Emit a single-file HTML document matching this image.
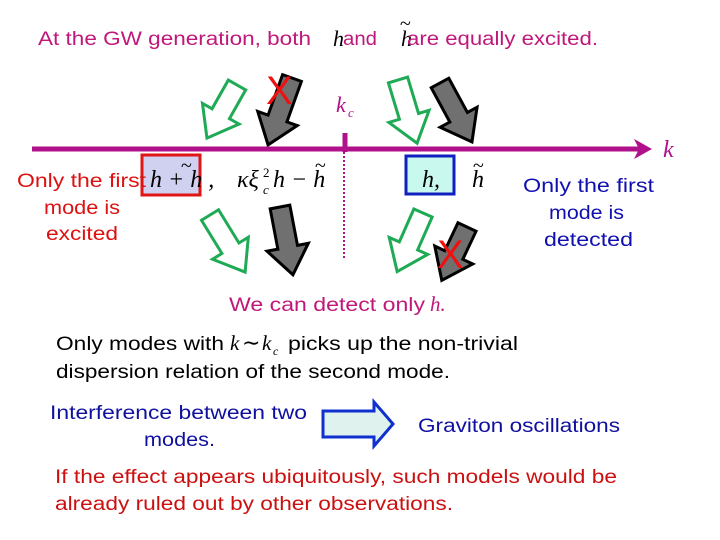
<!DOCTYPE html>
<html><head><meta charset="utf-8"><style>
body{margin:0;background:#fff}
svg{display:block}
.t{font-family:"Liberation Sans","Noto Sans CJK JP",sans-serif;font-size:19px}
.m{font-family:"Liberation Serif",serif;font-style:italic}
</style></head><body>
<svg width="720" height="540" viewBox="0 0 720 540" xmlns="http://www.w3.org/2000/svg">
<text x="38" y="45" class="t" fill="#c0187a" textLength="273" lengthAdjust="spacingAndGlyphs">At the GW generation, both</text>
<text x="333" y="46" class="m" font-size="22" fill="#000">h</text>
<text x="343" y="45" class="t" fill="#c0187a" textLength="34" lengthAdjust="spacingAndGlyphs">and</text>
<text x="401" y="46" class="m" font-size="22" fill="#000">h</text>
<text x="400" y="30" font-family="Liberation Serif" font-size="20" fill="#000">~</text>
<text x="407" y="45" class="t" fill="#c0187a" textLength="191" lengthAdjust="spacingAndGlyphs">are equally excited.</text>

<g stroke-width="3" stroke-linejoin="miter">
<polygon transform="translate(237,85) rotate(119.5)" points="0,-10 33,-10 33,-21 61,0 33,21 33,10 0,10" fill="#fff" stroke="#1faa55"/>
<polygon transform="translate(292,78) rotate(109.7)" points="0,-10 43,-10 43,-21 71,0 43,21 43,10 0,10" fill="#707070" stroke="#000"/>
<polygon transform="translate(398,80) rotate(73.2)" points="0,-10 38,-10 38,-21 66,0 38,21 38,10 0,10" fill="#fff" stroke="#1faa55"/>
<polygon transform="translate(440,83) rotate(61.5)" points="0,-10 39,-10 39,-21 67,0 39,21 39,10 0,10" fill="#707070" stroke="#000"/>
<polygon transform="translate(210,215) rotate(58.4)" points="0,-10 39,-10 39,-21 67,0 39,21 39,10 0,10" fill="#fff" stroke="#1faa55"/>
<polygon transform="translate(280,207) rotate(79.2)" points="0,-10 41,-10 41,-21 69,0 41,21 41,10 0,10" fill="#707070" stroke="#000"/>
<polygon transform="translate(423,213) rotate(113.8)" points="0,-10 36,-10 36,-21 64,0 36,21 36,10 0,10" fill="#fff" stroke="#1faa55"/>
<polygon transform="translate(467,227) rotate(115.3)" points="0,-10 31,-10 31,-21 59,0 31,21 31,10 0,10" fill="#707070" stroke="#000"/>
</g>
<text x="266" y="104" font-family="Liberation Sans" font-size="40" fill="#ee1111">X</text>
<text x="437" y="268" font-family="Liberation Sans" font-size="40" fill="#ee1111">X</text>

<line x1="32" y1="149" x2="640" y2="149" stroke="#b0108a" stroke-width="5"/>
<polygon points="634,139 652,149 634,159 639,149" fill="#b0108a"/>
<line x1="345" y1="133" x2="345" y2="152" stroke="#b0108a" stroke-width="5"/>
<line x1="344" y1="152" x2="344" y2="258" stroke="#b0108a" stroke-width="2" stroke-dasharray="2,2"/>
<text x="663" y="157" class="m" font-size="24" fill="#b0108a">k</text>
<text x="336" y="112" class="m" font-size="22" fill="#b0108a">k</text>
<text x="348" y="117" class="m" font-size="13" fill="#b0108a">c</text>

<rect x="142" y="155" width="58" height="40" fill="#d0d0f0" stroke="#e01515" stroke-width="3"/>
<text x="150" y="187" class="m" font-size="24" fill="#000">h + h ,</text>
<text x="181" y="172" font-family="Liberation Serif" font-size="20">~</text>
<text x="237" y="187" class="m" font-size="24" fill="#000">κξ</text>
<text x="263" y="177" font-family="Liberation Serif" font-size="13">2</text>
<text x="263" y="194" class="m" font-size="13">c</text>
<text x="273" y="187" class="m" font-size="24" fill="#000">h − h</text>
<text x="315" y="172" font-family="Liberation Serif" font-size="20">~</text>
<rect x="406" y="156" width="48" height="38" fill="#c8f8ee" stroke="#1020c0" stroke-width="3"/>
<text x="422" y="187" class="m" font-size="24">h,</text>
<text x="472" y="187" class="m" font-size="24">h</text>
<text x="473" y="172" font-family="Liberation Serif" font-size="20">~</text>

<text x="17" y="187" class="t" fill="#dd1111" textLength="129" lengthAdjust="spacingAndGlyphs">Only the first</text>
<text x="44" y="214" class="t" fill="#dd1111" textLength="76" lengthAdjust="spacingAndGlyphs">mode is</text>
<text x="46" y="240" class="t" fill="#dd1111" textLength="72" lengthAdjust="spacingAndGlyphs">excited</text>
<text x="523" y="192" class="t" fill="#1010b0" textLength="131" lengthAdjust="spacingAndGlyphs">Only the first</text>
<text x="549" y="219" class="t" fill="#1010b0" textLength="75" lengthAdjust="spacingAndGlyphs">mode is</text>
<text x="544" y="246" class="t" fill="#1010b0" textLength="89" lengthAdjust="spacingAndGlyphs">detected</text>

<text x="229" y="311" class="t" fill="#c0187a" textLength="196" lengthAdjust="spacingAndGlyphs">We can detect only</text>
<text x="430" y="311" class="m" font-size="21" fill="#c0187a">h.</text>
<text x="56" y="350" class="t" fill="#000" textLength="168" lengthAdjust="spacingAndGlyphs">Only modes with</text>
<text x="230" y="350" class="m" font-size="21">k</text>
<text x="242" y="350" font-family="Liberation Serif" font-size="22">∼</text>
<text x="262" y="350" class="m" font-size="21">k</text>
<text x="273" y="355" class="m" font-size="12">c</text>
<text x="288" y="350" class="t" fill="#000" textLength="230" lengthAdjust="spacingAndGlyphs">picks up the non-trivial</text>
<text x="56" y="378" class="t" fill="#000" textLength="394" lengthAdjust="spacingAndGlyphs">dispersion relation of the second mode.</text>

<text x="50" y="419" class="t" fill="#1010a0" textLength="257" lengthAdjust="spacingAndGlyphs">Interference between two</text>
<text x="144" y="446" class="t" fill="#1010a0" textLength="71" lengthAdjust="spacingAndGlyphs">modes.</text>
<polygon points="323,411 374,411 374,402 393,424 374,446 374,437 323,437" fill="#dff2ee" stroke="#1030d0" stroke-width="3"/>
<text x="418" y="432" class="t" fill="#1010a0" textLength="202" lengthAdjust="spacingAndGlyphs">Graviton oscillations</text>

<text x="55" y="483" class="t" fill="#cc1010" textLength="562" lengthAdjust="spacingAndGlyphs">If the effect appears ubiquitously, such models would be</text>
<text x="55" y="510" class="t" fill="#cc1010" textLength="398" lengthAdjust="spacingAndGlyphs">already ruled out by other observations.</text>
</svg>
</body></html>
